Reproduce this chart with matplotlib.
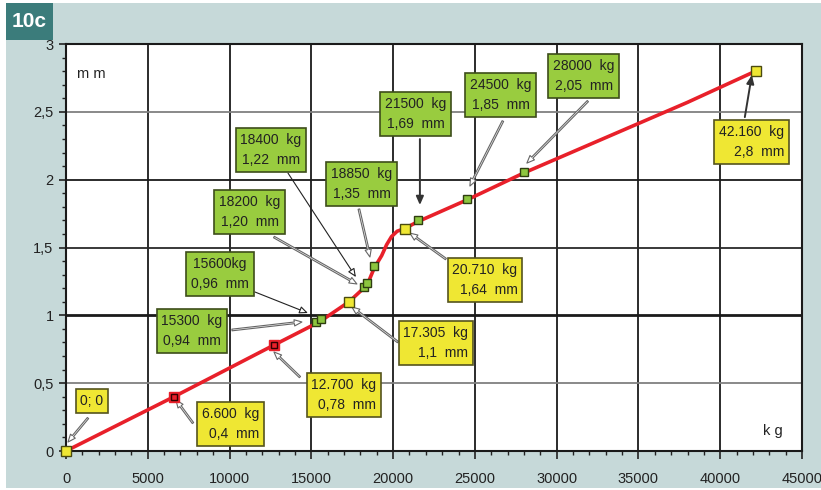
import matplotlib
matplotlib.use("Agg")
import matplotlib.pyplot as plt
from matplotlib.patches import Rectangle
from matplotlib.ticker import MultipleLocator, FuncFormatter

plt.rcParams['font.family'] = ['Liberation Sans', 'DejaVu Sans']

# ---- data ----
curve_kg = [0, 6600, 12700, 15300, 15600, 17305, 18200, 18400, 18850, 19300,
            19600, 19900, 20250, 20710, 21500, 24500, 28000, 38000, 42160]
curve_mm = [0, 0.40, 0.78, 0.94, 0.96, 1.10, 1.20, 1.22, 1.35, 1.44,
            1.52, 1.58, 1.62, 1.64, 1.69, 1.85, 2.05, 2.57, 2.80]

yellow_kg = [0, 17305, 20710, 42160]
yellow_mm = [0, 1.10, 1.64, 2.80]
red_kg = [6600, 12700]
red_mm = [0.40, 0.78]
green_kg = [15300, 15600, 18200, 18400, 18850, 21500, 24500, 28000]
green_mm = [0.95, 0.97, 1.21, 1.24, 1.36, 1.70, 1.86, 2.06]

label_texts = ["0; 0", "6.600  kg\n0,4  mm", "12.700  kg\n0,78  mm",
               "15300  kg\n0,94  mm", "15600kg\n0,96  mm", "18200  kg\n1,20  mm",
               "18400  kg\n1,22  mm", "18850  kg\n1,35  mm", "21500  kg\n1,69  mm",
               "24500  kg\n1,85  mm", "28000  kg\n2,05  mm", "17.305  kg\n1,1  mm",
               "20.710  kg\n1,64  mm", "42.160  kg\n2,8  mm"]
label_kinds = ["y", "y", "y", "g", "g", "g", "g", "g", "g", "g", "g", "y", "y", "y"]

xticks = [0, 5000, 10000, 15000, 20000, 25000, 30000, 35000, 40000, 45000]
yticks = [0, 0.5, 1, 1.5, 2, 2.5, 3]

# ---- layout (label box centres and arrow ends, data coords) ----
box_xy = [(1589, 0.368), (10086, 0.199), (16993, 0.413), (7702, 0.884),
          (9413, 1.304), (11247, 1.761), (12531, 2.218), (18093, 1.968),
          (21394, 2.483), (26589, 2.623), (31663, 2.763), (22616, 0.796),
          (25611, 1.26), (41932, 2.277)]
arrow_from = [(1345, 0.243), (7763, 0.206), (14303, 0.545), (10147, 0.892),
              (11553, 1.172), (12714, 1.577), (13570, 2.049), (17909, 1.783),
              (21638, 2.299), (26711, 2.432), (31907, 2.579), (20293, 0.803),
              (23227, 1.415), (41504, 2.461)]
arrow_to = [(122, 0.066), (6724, 0.376), (12714, 0.73), (14425, 0.951),
            (14792, 1.017), (17787, 1.231), (17726, 1.282), (18582, 1.43),
            (21638, 1.813), (24694, 1.953), (28178, 2.122), (17482, 1.061),
            (21027, 1.606), (41932, 2.771)]
# arrow look: 'h' hollow grey, 't' thin black, 'd' dark solid
arrow_look = ["h", "h", "h", "h", "t", "h", "t", "h", "d", "h", "h", "h", "h", "d"]

W, H = 821, 490
fig = plt.figure(figsize=(W / 100, H / 100), dpi=100)
fig.patch.set_facecolor('white')
bg = '#C6D9D9'
fig.patches.append(Rectangle((6 / W, 2 / H), 815 / W, 485 / H, transform=fig.transFigure,
                             facecolor=bg, edgecolor='none', zorder=-10))
fig.patches.append(Rectangle((6 / W, 1 - 40 / H), 47 / W, 37 / H, transform=fig.transFigure,
                             facecolor='#3B7C7B', edgecolor='none', zorder=-5))
fig.text(29.5 / W, 1 - 21.5 / H, "10c", color='white', fontsize=15, ha='center',
         va='center', fontweight='bold')

ax = fig.add_axes([66 / W, 1 - 451 / H, (802 - 66) / W, (451 - 44) / H])
ax.set_facecolor('white')
ax.set_xlim(0, 45000)
ax.set_ylim(0, 3)

# grid
for xv in xticks[1:-1]:
    ax.axvline(xv, color='#1a1a1a', lw=1.3, zorder=1)
hstyle = {0.5: ('#808080', 1.3), 1: ('#1a1a1a', 2.0), 1.5: ('#2a2a2a', 1.3),
          2: ('#1a1a1a', 1.3), 2.5: ('#808080', 1.3)}
for yv in yticks[1:-1]:
    c, w = hstyle[yv]
    ax.axhline(yv, color=c, lw=w, zorder=1)

ax.set_xticks(xticks)
ax.set_yticks(yticks)
ax.xaxis.set_minor_locator(MultipleLocator(1000))
ax.yaxis.set_minor_locator(MultipleLocator(0.1))
ax.xaxis.set_major_formatter(FuncFormatter(lambda v, p: f"{int(v)}"))
ax.yaxis.set_major_formatter(FuncFormatter(lambda v, p: f"{v:g}".replace('.', ',')))
ax.tick_params(axis='x', which='major', length=6, width=1.2, labelsize=10.5, pad=9,
               colors='#222222')
ax.tick_params(axis='x', which='minor', length=3, width=1.0, colors='#222222')
ax.tick_params(axis='y', which='major', length=5, width=1.2, labelsize=10.5, pad=4,
               colors='#222222')
ax.tick_params(axis='y', which='minor', length=3, width=1.0, colors='#222222')
for s in ax.spines.values():
    s.set_color('#1a1a1a')
    s.set_linewidth(1.5)

# curve
ax.plot(curve_kg, curve_mm, color='#E8202A', lw=2.6, zorder=3, solid_capstyle='round')

# markers
ax.plot(yellow_kg, yellow_mm, 's', ms=7.5, mfc='#EFE733', mec='#4a4a10', mew=1.0,
        zorder=5, clip_on=False)
ax.plot(red_kg, red_mm, 's', ms=7, mfc='#E8202A', mec='#E8202A', zorder=5)
ax.plot(red_kg, red_mm, 's', ms=4, mfc='none', mec='#300000', mew=1.0, zorder=6)
ax.plot(green_kg, green_mm, 's', ms=6, mfc='#8DC63F', mec='#2e3d10', mew=1.0, zorder=5)

# annotations
for txt, kind, look, (bx, by), (fx, fy), (tx, ty) in zip(label_texts, label_kinds, arrow_look,
                                                          box_xy, arrow_from, arrow_to):
    fc = '#EFE733' if kind == 'y' else '#99CC3F'
    ec = '#55541e' if kind == 'y' else '#3d4d1a'
    ax.text(bx, by, txt, fontsize=10, ha='center', va='center', color='#222222',
            multialignment='right' if kind == 'y' else 'center', linespacing=1.55,
            bbox=dict(boxstyle='square,pad=0.35', fc=fc, ec=ec, lw=1.2), zorder=7)
    if look == 'h':
        props = dict(arrowstyle='simple,head_length=0.55,head_width=0.45,tail_width=0.12',
                     fc='white', ec='#666666', lw=0.8, shrinkA=0, shrinkB=0)
    elif look == 't':
        props = dict(arrowstyle='-|>,head_length=0.5,head_width=0.22',
                     fc='white', ec='#222222', lw=0.8, shrinkA=0, shrinkB=0)
    else:
        props = dict(arrowstyle='-|>,head_length=0.5,head_width=0.22',
                     fc='#333333', ec='#333333', lw=1.4, shrinkA=0, shrinkB=0)
    ax.annotate('', xy=(tx, ty), xytext=(fx, fy), arrowprops=props, zorder=4)

ax.text(700, 2.78, "m m", fontsize=10.5, color='#222222', ha='left', va='center')
ax.text(42600, 0.15, "k g", fontsize=10.5, color='#222222', ha='left', va='center')

fig.savefig("out.png", dpi=100, facecolor=fig.get_facecolor())
